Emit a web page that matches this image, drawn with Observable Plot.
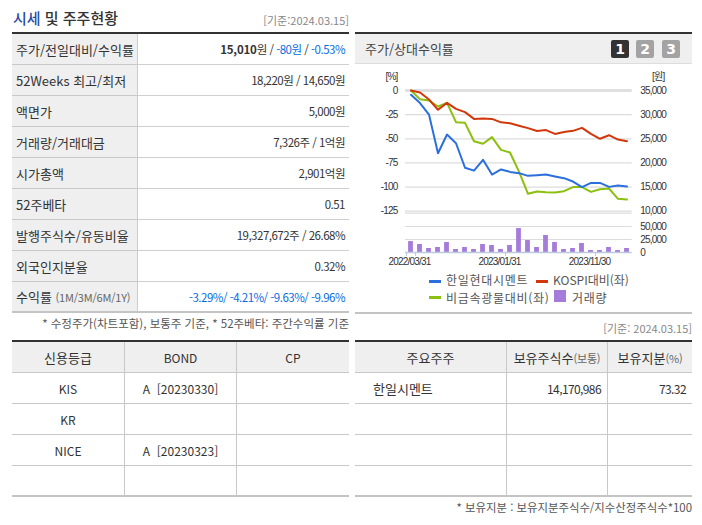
<!DOCTYPE html>
<html lang="ko"><head><meta charset="utf-8">
<script src="https://cdn.jsdelivr.net/npm/d3@7"></script>
<script src="https://cdn.jsdelivr.net/npm/@observablehq/plot@0.6"></script>
<style>
html,body{margin:0;padding:0;background:#fff}
body{width:702px;height:525px;position:relative;overflow:hidden;font-family:"Noto Sans CJK KR","Noto Sans",sans-serif;font-size:13px;color:#333}
.abs{position:absolute;white-space:nowrap}
table{position:absolute;border-collapse:separate;border-spacing:0;table-layout:fixed;border-top:2px solid #333;box-sizing:border-box}
td,th{height:31px;box-sizing:border-box;padding:0;border-bottom:1px solid #d0d0d0;font-weight:400;overflow:hidden;white-space:nowrap}
tr:last-child td{border-bottom:2px solid #c4c4c4;height:31px}
.k{background:#efefef;padding-left:4px;border-right:1px solid #ccc;border-bottom-color:#c8c8c8}
.v{text-align:right;padding-right:4px;font-size:11.5px;letter-spacing:-.5px}
.blue{color:#0a6ce0}
.sm{font-size:11px;color:#666;letter-spacing:-.2px}
.g th{background:#efefef;text-align:center;border-right:1px solid #c8c8c8;border-bottom-color:#c8c8c8}
.g td{text-align:center;border-right:1px solid #c8c8c8;border-bottom-color:#c8c8c8;font-size:12px}
.g tr>*:last-child{border-right:0}
.btn{position:absolute;top:40px;width:18px;height:18px;border-radius:2px;color:#fff;font:700 14px/18px "DejaVu Sans",sans-serif;text-align:center}
.sw{position:absolute;height:3px;width:12px}
#c1,#c2{position:absolute;left:355px}
#c1 svg,#c2 svg{overflow:visible;display:block}
.leg{font-size:12px;color:#555;letter-spacing:.7px;line-height:15px}
</style></head><body>
<div class="abs" style="left:13px;top:7px;font-size:15px;font-weight:500;line-height:22px"><span style="color:#2a4aa8">시세</span> 및 주주현황</div>
<div class="abs" style="right:353px;top:12px;font-size:11px;color:#888;line-height:16px">[기준:2024.03.15]</div>
<table id="t1" style="left:12px;top:32px;width:337px"></table>
<div class="abs" style="right:353px;top:315px;font-size:11.5px;color:#555;line-height:16px">* 수정주가(차트포함), 보통주 기준, * 52주베타: 주간수익률 기준</div>
<table id="t2" class="g" style="left:12px;top:340px;width:337px"></table>
<table id="t3" class="g" style="left:355px;top:340px;width:337px"></table>
<div class="abs" style="right:10px;top:499px;font-size:11.4px;color:#555;line-height:16px">* 보유지분 : 보유지분주식수/지수산정주식수*100</div>

<div class="abs" style="left:355px;top:32px;width:337px;height:32px;background:#efefef;border-top:2px solid #333;border-bottom:1px solid #ddd;box-sizing:border-box"></div>
<div class="abs" style="left:365px;top:40px;font-size:13px;line-height:18px;color:#444">주가/상대수익률</div>
<div class="btn" style="left:611px;background:#333">1</div>
<div class="btn" style="left:636px;background:#a3a3a3">2</div>
<div class="btn" style="left:662px;background:#a3a3a3">3</div>
<div id="c1" style="top:64px"></div>
<div id="c2" style="top:220px"></div>
<div class="abs" style="left:355px;top:312px;width:337px;height:2px;background:#c4c4c4"></div>
<div class="abs" style="right:10px;top:320px;font-size:11px;color:#888;line-height:16px">[기준: 2024.03.15]</div>

<div class="sw" style="left:429px;top:280px;background:#2a6fdb"></div><div class="abs leg" style="left:446px;top:272px">한일현대시멘트</div>
<div class="sw" style="left:536px;top:280px;background:#d2370c"></div><div class="abs leg" style="left:553px;top:272px;letter-spacing:0">KOSPI대비(좌)</div>
<div class="sw" style="left:429px;top:296px;background:#8cc00e"></div><div class="abs leg" style="left:446px;top:289.5px">비금속광물대비(좌)</div>
<div class="abs" style="left:554px;top:290px;width:12px;height:12px;background:#a67cdb"></div><div class="abs leg" style="left:572px;top:289.5px">거래량</div>

<script>
const months = ["2022/03/31","2022/04/30","2022/05/31","2022/06/30","2022/07/31","2022/08/31","2022/09/30","2022/10/31","2022/11/30","2022/12/31","2023/01/31","2023/02/28","2023/03/31","2023/04/30","2023/05/31","2023/06/30","2023/07/31","2023/08/31","2023/09/30","2023/10/31","2023/11/30","2023/12/31","2024/01/31","2024/02/29","2024/03/15"];
const company = [-4.5,-13,-25,-65,-45.6,-54.6,-80,-83,-71.8,-87,-81.8,-84.3,-85.6,-88.4,-87.7,-87,-89,-90.8,-94.3,-100,-95.7,-95.7,-99.8,-98.4,-99.4];
const kospi = [0,-2,-9.3,-20,-12.8,-19,-22.4,-29.4,-29,-29.4,-33,-34,-36.5,-39,-42,-41,-45,-43,-41.8,-38.7,-45,-50,-46.3,-50.8,-52.5];
const metals = [0,-9,-10.4,-16.6,-12.8,-32.8,-33.5,-52.5,-55.2,-48.3,-61.5,-64.2,-84,-107,-104.6,-105.3,-105.7,-104.3,-100,-100,-105,-102.2,-101.5,-112.2,-113];
const volume = [21000,15400,7700,9600,19200,5800,9600,5800,15400,13500,5800,13500,46000,23000,9600,32700,19200,5800,7700,17300,3800,3800,9600,3800,7700];
const pctTicks = [0,-25,-50,-75,-100,-125];
const priceLabels = ["35,000","30,000","25,000","20,000","15,000","10,000"];
const paneFloor = [-127];
const volTicks = [0,25000,50000];
const labelDates = ["2022/03/31","2023/01/31","2023/11/30"];
const rows1 = [
 ["주가/전일대비/수익률",'<b style="font-size:11.5px;letter-spacing:-.2px;color:#333">15,010</b>원 / <span class="blue">-80원</span> / <span class="blue">-0.53%</span>'],
 ["52Weeks 최고/최저","18,220원 / 14,650원"],
 ["액면가","5,000원"],
 ["거래량/거래대금","7,326주 / 1억원"],
 ["시가총액","2,901억원"],
 ["52주베타","0.51"],
 ["발행주식수/유동비율","19,327,672주 / 26.68%"],
 ["외국인지분율","0.32%"],
 ['수익률 <span class="sm">(1M/3M/6M/1Y)</span>','<span class="blue">-3.29%/ -4.21%/ -9.63%/ -9.96%</span>']
];
const credit = [["신용등급",'<span style="font-size:12px">BOND</span>','<span style="font-size:12px">CP</span>'],["KIS","A &nbsp;[20230330]",""],["KR","",""],["NICE","A &nbsp;[20230323]",""],["","",""]];
const holders = [["주요주주",'보유주식수<span class="sm">(보통)</span>','보유지분<span class="sm">(%)</span>'],["한일시멘트","14,170,986","73.32"],["","",""],["","",""],["","",""]];

document.getElementById("t1").innerHTML = '<colgroup><col style="width:126px"><col></colgroup>'+rows1.map(r=>`<tr><td class="k">${r[0]}</td><td class="v">${r[1]}</td></tr>`).join("");
const grid=(rows,w,fn)=>`<colgroup>${w.map(x=>`<col style="width:${x}px">`).join("")}</colgroup>`+rows.map((r,i)=>`<tr>${r.map((c,j)=>i==0?`<th>${c}</th>`:`<td${fn?fn(j):""}>${c}</td>`).join("")}</tr>`).join("");
document.getElementById("t2").innerHTML = grid(credit,[113,112,112]);
document.getElementById("t3").innerHTML = grid(holders,[152,101,84],j=>j==0?' style="text-align:left;padding-left:18px;font-size:13px"':' style="text-align:right;padding-right:6px;letter-spacing:-.6px"');

const long = (name,vals)=>vals.map((v,i)=>({name,m:months[i],v}));
const series = [...long("metals",metals),...long("company",company),...long("kospi",kospi)];
const xs = {type:"band",domain:months,padding:0,range:[50,276.7]};
const chartStyle = {background:"transparent",fontFamily:'"Liberation Sans","Noto Sans CJK KR",sans-serif',fontSize:"10px",letterSpacing:"-.8px",color:"#333"};

const top1 = Plot.plot({
  width:347,height:160,marginLeft:50,marginRight:70.3,marginTop:26,marginBottom:13.3,
  style:chartStyle,
  x:{...xs,axis:null},
  y:{domain:[-125,0]},
  color:{domain:["company","kospi","metals"],range:["#2a6fdb","#d2370c","#8cc00e"]},
  marks:[
    Plot.ruleY(pctTicks.filter(d=>d!=0),{stroke:"#dcdcdc",strokeWidth:1.2}),
    Plot.ruleY(paneFloor,{stroke:"#dcdcdc",strokeWidth:1.2}),
    Plot.ruleY([0],{stroke:"#e0e0e0",strokeWidth:3}),
    Plot.axisY(pctTicks,{anchor:"left",tickSize:0,tickPadding:8,label:null,tickFormat:d=>String(d),fill:"#333"}),
    Plot.axisY(pctTicks,{anchor:"right",tickSize:0,tickPadding:8,label:null,tickFormat:d=>priceLabels[pctTicks.indexOf(d)],fill:"#333"}),
    Plot.text(["[%]"],{frameAnchor:"top-left",dx:-14,dy:-14,text:d=>d,fill:"#333",textAnchor:"middle",lineAnchor:"middle"}),
    Plot.text(["[원]"],{frameAnchor:"top-right",dx:26,dy:-14,text:d=>d,fill:"#333",textAnchor:"middle",lineAnchor:"middle"}),
    Plot.line(series,{x:"m",y:"v",z:"name",stroke:"name",strokeWidth:2,curve:"linear"})
  ]
});
document.getElementById("c1").append(top1);

const bot = Plot.plot({
  width:347,height:50,marginLeft:50,marginRight:70.3,marginTop:6,marginBottom:18,
  style:chartStyle,
  x:{...xs,axis:null},
  y:{domain:[0,50000]},
  marks:[
    Plot.ruleY(volTicks.filter(d=>d>0),{stroke:"#dcdcdc",strokeWidth:1.2}),
    Plot.axisY(volTicks,{anchor:"right",tickSize:0,tickPadding:8,label:null,tickFormat:d3.format(","),fill:"#333"}),
    Plot.barY(volume,{x:(d,i)=>months[i],y:d=>d,fill:"#a67cdb",insetLeft:2.1,insetRight:2.1}),
    Plot.ruleY([0],{stroke:"#bccbdc",strokeWidth:1.5}),
    Plot.axisX(labelDates,{anchor:"bottom",tickSize:0,tickPadding:5,label:null,dx:-1.5,fill:"#333"}),
    Plot.axisX(labelDates,{anchor:"bottom",tickSize:4,tickPadding:0,label:null,dx:4.53,tickFormat:()=>"",stroke:"#bccbdc"}),
    Plot.axisX(months.slice(0,1),{anchor:"bottom",tickSize:4,tickPadding:0,label:null,dx:-4.53,tickFormat:()=>"",stroke:"#bccbdc"})
  ]
});
document.getElementById("c2").append(bot);
</script>
</body></html>
